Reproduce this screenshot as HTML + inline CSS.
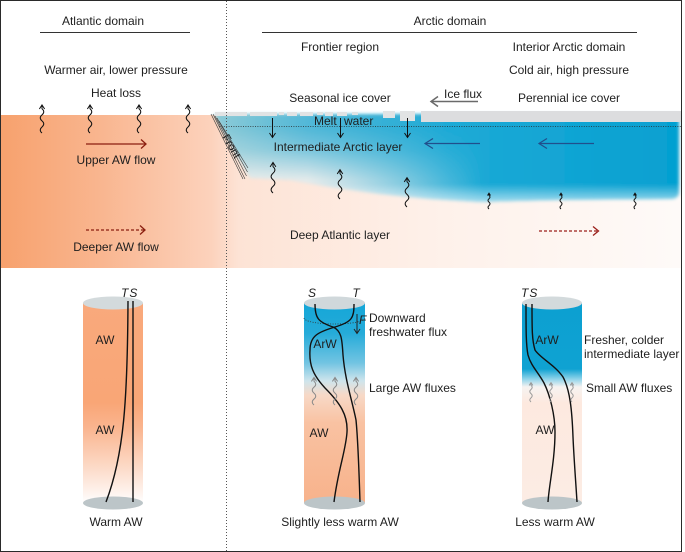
<!DOCTYPE html>
<html><head><meta charset="utf-8"><style>
html,body{margin:0;padding:0;background:#fff;}
svg{display:block;}
text{font-family:"Liberation Sans",Arial,sans-serif;font-size:12px;fill:#1e1e1e;}
.c{text-anchor:middle;}
.it{font-style:italic;}
</style></head><body>
<svg width="685" height="552" viewBox="0 0 685 552" xmlns="http://www.w3.org/2000/svg">
<defs>
 <linearGradient id="sea" x1="0" y1="0" x2="681" y2="0" gradientUnits="userSpaceOnUse">
  <stop offset="0" stop-color="#f7a16d"/>
  <stop offset="0.15" stop-color="#f9b690"/>
  <stop offset="0.31" stop-color="#fcd2bc"/>
  <stop offset="0.35" stop-color="#fde3d5"/>
  <stop offset="0.65" stop-color="#fef1ea"/>
  <stop offset="1" stop-color="#fefaf8"/>
 </linearGradient>
 <linearGradient id="blueH" x1="214" y1="0" x2="681" y2="0" gradientUnits="userSpaceOnUse">
  <stop offset="0" stop-color="#8ecbd7"/>
  <stop offset="0.2" stop-color="#52b8d8"/>
  <stop offset="0.5" stop-color="#1eaad6"/>
  <stop offset="1" stop-color="#05a0d1"/>
 </linearGradient>
 <linearGradient id="fadeV" x1="0" y1="128" x2="0" y2="202" gradientUnits="userSpaceOnUse">
  <stop offset="0" stop-color="#fdf3ee" stop-opacity="0"/>
  <stop offset="0.3" stop-color="#fdf3ee" stop-opacity="0.25"/>
  <stop offset="0.7" stop-color="#fdf3ee" stop-opacity="0.85"/>
  <stop offset="1" stop-color="#fdf3ee" stop-opacity="1"/>
 </linearGradient>
 <linearGradient id="fadeB" x1="0" y1="184" x2="0" y2="202" gradientUnits="userSpaceOnUse">
  <stop offset="0" stop-color="#ffffff" stop-opacity="0"/>
  <stop offset="1" stop-color="#ffffff" stop-opacity="0.6"/>
 </linearGradient>
 <linearGradient id="maskG" x1="214" y1="0" x2="681" y2="0" gradientUnits="userSpaceOnUse">
  <stop offset="0" stop-color="#fff"/>
  <stop offset="0.2" stop-color="#fff"/>
  <stop offset="0.58" stop-color="#000"/>
  <stop offset="1" stop-color="#000"/>
 </linearGradient>
 <mask id="leftMask" maskUnits="userSpaceOnUse" x="0" y="0" width="685" height="552">
  <rect x="200" y="100" width="485" height="120" fill="url(#maskG)"/>
 </mask>
 <filter id="soft" x="-5%" y="-20%" width="110%" height="140%">
  <feGaussianBlur stdDeviation="1.6"/>
 </filter>
 <linearGradient id="cyl1" x1="0" y1="303" x2="0" y2="503" gradientUnits="userSpaceOnUse">
  <stop offset="0" stop-color="#f9a97c"/>
  <stop offset="0.5" stop-color="#f9a676"/>
  <stop offset="0.62" stop-color="#fab48e"/>
  <stop offset="0.8" stop-color="#fcd6c1"/>
  <stop offset="0.95" stop-color="#fef3ee"/>
  <stop offset="1" stop-color="#ffffff"/>
 </linearGradient>
 <linearGradient id="cyl2" x1="0" y1="303" x2="0" y2="503" gradientUnits="userSpaceOnUse">
  <stop offset="0" stop-color="#14a6d8"/>
  <stop offset="0.15" stop-color="#25abd9"/>
  <stop offset="0.3" stop-color="#72c4e2"/>
  <stop offset="0.39" stop-color="#cfe5ec"/>
  <stop offset="0.46" stop-color="#f7d9c7"/>
  <stop offset="0.6" stop-color="#f9c2a2"/>
  <stop offset="1" stop-color="#f7b28b"/>
 </linearGradient>
 <linearGradient id="cyl3" x1="0" y1="303" x2="0" y2="503" gradientUnits="userSpaceOnUse">
  <stop offset="0" stop-color="#0ca0d1"/>
  <stop offset="0.33" stop-color="#0fa2d2"/>
  <stop offset="0.38" stop-color="#8ed3ea"/>
  <stop offset="0.42" stop-color="#f6f3f1"/>
  <stop offset="0.5" stop-color="#fde9df"/>
  <stop offset="1" stop-color="#fcece4"/>
 </linearGradient>
 <path id="sq" fill="none" d="M0,0 q-3.2,-2.75 0,-5.5 t0,-5.5 t0,-5.5 t0,-5.5 l0,-3 M-2.4,-21.8 L0,-25.5 L2.4,-21.8" vector-effect="non-scaling-stroke"/>
</defs>

<!-- top ocean panel -->
<rect x="1" y="115" width="680" height="153" fill="url(#sea)"/>

<!-- blue intermediate layer -->
<g filter="url(#soft)">
 <path d="M214,114 L679,114 L679,192 Q679,198 672,199 L560,200 L480,202 L430,199 L380,194 L330,187 L290,180 L250,178 Z" fill="url(#blueH)"/>
 <path d="M214,114 L679,114 L679,192 Q679,198 672,199 L560,200 L480,202 L430,199 L380,194 L330,187 L290,180 L250,178 Z" fill="url(#fadeV)" mask="url(#leftMask)"/>
 <path d="M214,114 L679,114 L679,192 Q679,198 672,199 L560,200 L480,202 L430,199 L380,194 L330,187 L290,180 L250,178 Z" fill="url(#fadeB)"/>
</g>

<!-- ice -->
<g fill="#e1e3e4">
 <rect x="215" y="112" width="32" height="4"/>
 <rect x="250" y="112" width="27" height="4"/>
 <rect x="279" y="112" width="5" height="3"/>
 <rect x="287" y="112" width="10" height="4"/>
 <rect x="300" y="112" width="13" height="4"/>
 <rect x="317" y="112" width="6" height="3"/>
 <rect x="325" y="112" width="8" height="4"/>
 <rect x="337" y="112" width="10" height="4"/>
 <rect x="352" y="112" width="6" height="3"/>
 <rect x="383" y="111" width="12" height="7"/>
 <rect x="400" y="111" width="15" height="10"/>
 <rect x="421" y="111" width="260" height="11" fill="#dcdddf"/>
</g>

<!-- dotted surface line -->
<line x1="219" y1="126.5" x2="681" y2="126.5" stroke="#2a2a2a" stroke-width="0.8" stroke-dasharray="1,1.4"/>

<!-- front hatch -->
<g stroke="#3a3a3a" stroke-width="0.6">
 <line x1="211" y1="114" x2="243" y2="179"/>
 <line x1="213" y1="114" x2="245" y2="179"/>
 <line x1="215" y1="116" x2="246.5" y2="176"/>
 <line x1="217" y1="118" x2="247.5" y2="172"/>
 <line x1="219" y1="121" x2="248" y2="168"/>
</g>
<text x="222" y="137" transform="rotate(60 222 137)" style="font-size:11px">Front</text>

<!-- vertical dotted divider -->
<line x1="226.5" y1="1" x2="226.5" y2="551" stroke="#555" stroke-width="1" stroke-dasharray="1,2"/>

<!-- header texts -->
<text class="c" x="103" y="25">Atlantic domain</text>
<line x1="40" y1="32.5" x2="190" y2="32.5" stroke="#333" stroke-width="1"/>
<text class="c" x="116" y="74">Warmer air, lower pressure</text>
<text class="c" x="116" y="97">Heat loss</text>

<text class="c" x="450" y="25">Arctic domain</text>
<line x1="262" y1="32.5" x2="637" y2="32.5" stroke="#333" stroke-width="1"/>
<text class="c" x="340" y="51">Frontier region</text>
<text class="c" x="569" y="51">Interior Arctic domain</text>
<text class="c" x="569" y="74">Cold air, high pressure</text>
<text class="c" x="340" y="102">Seasonal ice cover</text>
<text x="444" y="98">Ice flux</text>
<text class="c" x="569" y="102">Perennial ice cover</text>

<!-- ice flux arrow -->
<g stroke="#6a6a6a" stroke-width="1.5" fill="none">
 <line x1="431" y1="101.5" x2="478" y2="101.5"/>
 <polyline points="438,96.5 431,101.5 438,106.5"/>
</g>

<!-- heat loss squiggles -->
<g stroke="#111" stroke-width="1">
 <use href="#sq" transform="translate(42,133) scale(1.1)"/>
 <use href="#sq" transform="translate(90,133) scale(1.1)"/>
 <use href="#sq" transform="translate(139,133) scale(1.1)"/>
 <use href="#sq" transform="translate(188,133) scale(1.1)"/>
 <use href="#sq" transform="translate(273,193) scale(1.2)"/>
 <use href="#sq" transform="translate(340,199) scale(1.15)"/>
 <use href="#sq" transform="translate(407,207) scale(1.15)"/>
 <use href="#sq" transform="translate(489,209) scale(0.62)"/>
 <use href="#sq" transform="translate(561,209) scale(0.62)"/>
 <use href="#sq" transform="translate(635,209) scale(0.62)"/>
</g>

<!-- AW flow arrows -->
<g stroke="#8a1e10" stroke-width="1.3" fill="none">
 <line x1="86" y1="144" x2="146" y2="144"/>
 <polyline points="141,139.5 146,144 141,148.5"/>
 <line x1="86" y1="230" x2="145" y2="230" stroke-dasharray="3,2"/>
 <polyline points="140,225.5 145,230 140,234.5"/>
 <line x1="539" y1="231" x2="598" y2="231" stroke-dasharray="3,2" stroke="#9a1f1a"/>
 <polyline points="593,226.5 598.5,231 593,235.5" stroke="#9a1f1a"/>
</g>
<text class="c" x="116" y="164">Upper AW flow</text>
<text class="c" x="116" y="251">Deeper AW flow</text>

<!-- melt water -->
<text x="314" y="125">Melt</text>
<text x="344" y="125">water</text>
<g stroke="#111" stroke-width="1" fill="none">
 <line x1="272.5" y1="118" x2="272.5" y2="137"/><polyline points="269.5,133 272.5,137.5 275.5,133"/>
 <line x1="340.5" y1="118" x2="340.5" y2="137"/><polyline points="337.5,133 340.5,137.5 343.5,133"/>
 <line x1="407.5" y1="118" x2="407.5" y2="137"/><polyline points="404.5,133 407.5,137.5 410.5,133"/>
</g>
<text class="c" x="338" y="151">Intermediate Arctic layer</text>

<!-- blue arrows -->
<g stroke="#214f8c" stroke-width="1.2" fill="none">
 <line x1="425" y1="143.5" x2="480" y2="143.5"/>
 <polyline points="433,138.5 425,143.5 433,148.5"/>
 <line x1="539" y1="143.5" x2="594" y2="143.5"/>
 <polyline points="547,138.5 539,143.5 547,148.5"/>
</g>

<text class="c" x="340" y="239">Deep Atlantic layer</text>

<!-- Cylinder 1 -->
<rect x="83" y="303" width="60" height="200" fill="url(#cyl1)"/>
<ellipse cx="113" cy="303" rx="30" ry="6.5" fill="#d3dadc"/>
<ellipse cx="113" cy="503" rx="30" ry="6.5" fill="#bcc5c8"/>
<text class="it" x="121" y="297" style="letter-spacing:1px">TS</text>
<g stroke="#111" stroke-width="1.4" fill="none">
 <line x1="133" y1="301" x2="133" y2="502"/>
 <path d="M128,301 C127.5,400 124,455 106,502"/>
</g>
<text class="c" x="105" y="344">AW</text>
<text class="c" x="105" y="434">AW</text>
<text class="c" x="116" y="526">Warm AW</text>

<!-- Cylinder 2 -->
<rect x="304" y="303" width="61" height="200" fill="url(#cyl2)"/>
<ellipse cx="334.5" cy="303" rx="30.5" ry="6.5" fill="#d0d8db"/>
<ellipse cx="334.5" cy="503" rx="30.5" ry="6.5" fill="#bcc5c8"/>
<path d="M304,318 A30.5,6 0 0 0 365,318" fill="none" stroke="#333" stroke-width="0.8" stroke-dasharray="1,1.5"/>
<text class="it c" x="312" y="297">S</text>
<text class="it c" x="356" y="297">T</text>
<g stroke="#111" stroke-width="1.4" fill="none">
 <path d="M315,304 C315,318 318,322 333,327 C342,331 342,340 343,355 C345,380 352,400 356,420 C358,440 359,470 360,502"/>
 <path d="M354,304 C354,318 352,322 335,327 C318,332 310,336 310,350 C309,365 313,375 325,388 C340,403 348,415 347,432 C346,450 338,470 334,502"/>
</g>
<g stroke="#222" stroke-width="1" fill="none">
 <line x1="357" y1="314" x2="357" y2="333"/>
 <polyline points="354,329 357,333.5 360,329"/>
</g>
<text class="it" x="359" y="324">F</text>
<text x="369" y="322">Downward</text>
<text x="369" y="336">freshwater flux</text>
<text class="c" x="325" y="348">ArW</text>
<g stroke="#8a8a8a" stroke-width="1">
 <use href="#sq" transform="translate(314,405) scale(1.08)"/>
 <use href="#sq" transform="translate(335,405) scale(1.08)"/>
 <use href="#sq" transform="translate(356,405) scale(1.08)"/>
</g>
<text x="369" y="392">Large AW fluxes</text>
<text class="c" x="319" y="437">AW</text>
<text class="c" x="340" y="526">Slightly less warm AW</text>

<!-- Cylinder 3 -->
<rect x="522" y="303" width="60" height="200" fill="url(#cyl3)"/>
<ellipse cx="552" cy="303" rx="30" ry="6.5" fill="#d3dadc"/>
<ellipse cx="552" cy="503" rx="30" ry="6.5" fill="#bcc5c8"/>
<text class="it" x="521" y="297" style="letter-spacing:1px">TS</text>
<g stroke="#111" stroke-width="1.4" fill="none">
 <path d="M526,304 C526,330 526,345 528,355 C531,366 538,372 544,383 C550,395 555,415 555,432 C555,460 549,485 548,502"/>
 <path d="M532,304 C532,330 532,340 535,350 C540,358 555,365 563,377 C570,390 572,410 573,437 C574,460 576,485 577,502"/>
</g>
<text class="c" x="547" y="344">ArW</text>
<text x="584" y="344">Fresher, colder</text>
<text x="584" y="358">intermediate layer</text>
<g stroke="#999" stroke-width="1">
 <use href="#sq" transform="translate(531,402) scale(0.76)"/>
 <use href="#sq" transform="translate(551,402) scale(0.76)"/>
 <use href="#sq" transform="translate(572,402) scale(0.76)"/>
</g>
<text x="586" y="392">Small AW fluxes</text>
<text class="c" x="545" y="434">AW</text>
<text class="c" x="555" y="526">Less warm AW</text>

<!-- outer border -->
<rect x="0.5" y="0.5" width="681" height="551" fill="none" stroke="#2a2a2a" stroke-width="1"/>
</svg>
</body></html>
